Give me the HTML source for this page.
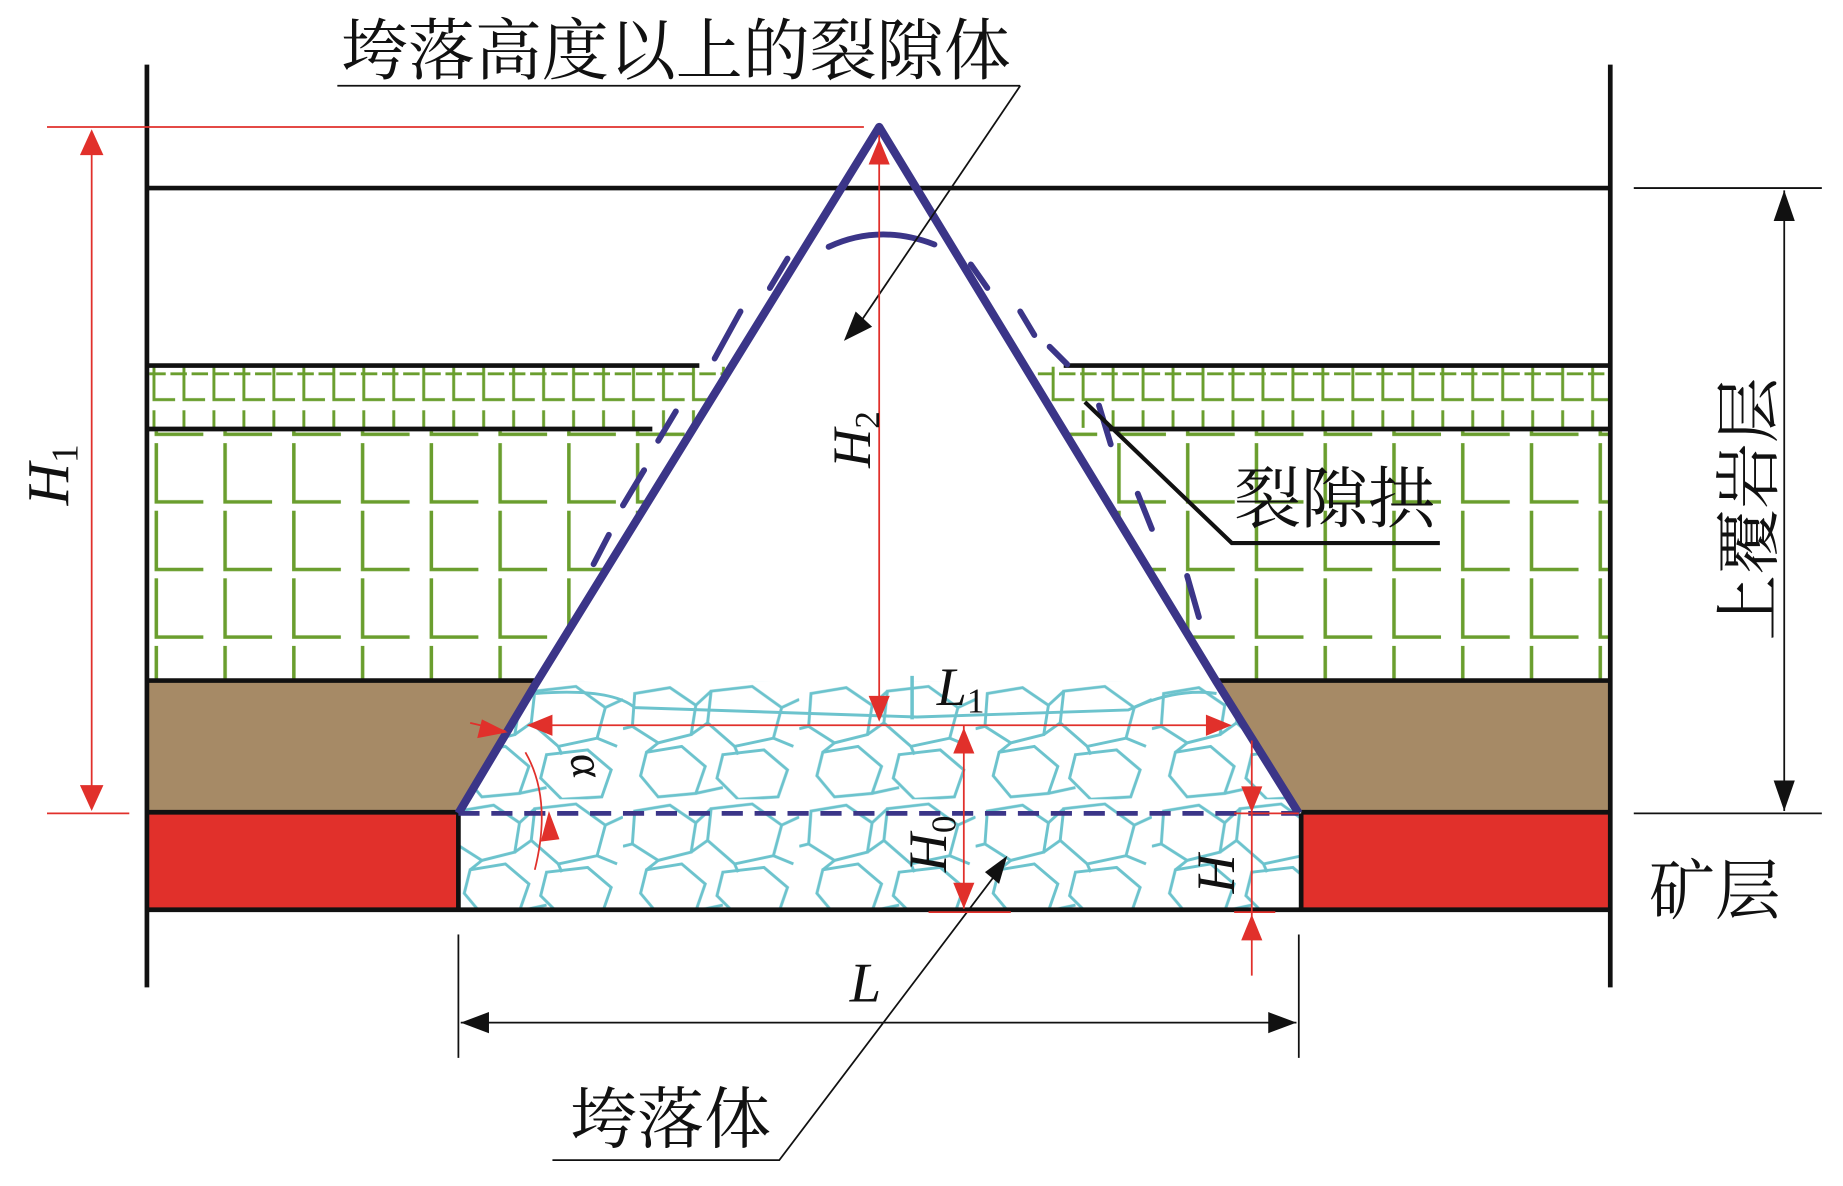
<!DOCTYPE html>
<html><head><meta charset="utf-8"><style>
html,body{margin:0;padding:0;background:#fff;}
svg{display:block;}
text{font-family:"Liberation Serif","Noto Serif CJK SC","Noto Sans CJK SC",serif;}
</style></head><body>
<svg width="1843" height="1186" viewBox="0 0 1568 1009" preserveAspectRatio="none" xmlns="http://www.w3.org/2000/svg">
<defs>
<pattern id="bigL" x="131" y="377" width="58.5" height="57.5" patternUnits="userSpaceOnUse">
<path d="M2 0 V50 H42" fill="none" stroke="#6a9e2e" stroke-width="3"/>
</pattern>
<pattern id="smL" x="129" y="320" width="25.5" height="40" patternUnits="userSpaceOnUse">
<path d="M2 0 V20 H20 M2 29 V40" fill="none" stroke="#6a9e2e" stroke-width="2.5"/>
</pattern>
<pattern id="rub" x="380" y="580" width="150" height="100" patternUnits="userSpaceOnUse">
<g fill="none" stroke="#6cc3cd" stroke-width="2.5">
<polygon points="10,10 40,5 62,20 58,45 30,52 8,38"/>
<polygon points="75,8 110,4 135,22 128,48 95,55 72,35"/>
<polygon points="20,60 50,55 70,72 62,95 30,98 15,80"/>
<polygon points="85,62 120,58 140,75 132,98 98,100 80,82"/>
<path d="M62,20 L75,8 M58,45 L72,35 M30,52 L20,60 M95,55 L98,62 M128,48 L145,55 M62,95 L85,90 M135,22 L150,15 M0,40 L8,38"/>
</g>
</pattern>
<clipPath id="trap"><polygon points="455,580 1035,580 1105,692 1107,773 390,773 390,692"/></clipPath>
</defs>
<rect width="1568" height="1009" fill="#fff"/>
<rect x="127" y="312" width="1243" height="52" fill="url(#smL)"/>
<line x1="127" y1="318" x2="1370" y2="318" stroke="#6a9e2e" stroke-width="2.5" stroke-dasharray="14 4"/>
<rect x="127" y="367" width="1243" height="211" fill="url(#bigL)"/>
<rect x="125" y="580" width="1245" height="111" fill="#a68a66"/>
<rect x="125" y="692" width="265" height="81" fill="#e1302b"/>
<rect x="1107" y="692" width="263" height="81" fill="#e1302b"/>
<polygon points="748,108 455,580 390,692 390,773 1107,773 1105,692 1035,580" fill="#fff"/>
<rect x="390" y="580" width="717" height="193" fill="url(#rub)" clip-path="url(#trap)"/>
<path d="M455,590 Q520,585 540,602 L780,610 L960,604 Q1000,585 1035,590" fill="none" stroke="#6cc3cd" stroke-width="2.5"/>
<line x1="776" y1="575" x2="776" y2="612" stroke="#6cc3cd" stroke-width="3"/>
<g stroke="#111" stroke-width="4" fill="none">
<line x1="125" y1="55" x2="125" y2="840"/>
<line x1="1370" y1="55" x2="1370" y2="840"/>
<line x1="125" y1="160" x2="1370" y2="160"/>
<line x1="125" y1="311" x2="595" y2="311"/>
<line x1="905" y1="311" x2="1370" y2="311"/>
<line x1="125" y1="365" x2="555" y2="365"/>
<line x1="940" y1="365" x2="1370" y2="365"/>
<line x1="125" y1="579" x2="455" y2="579"/>
<line x1="1035" y1="579" x2="1370" y2="579"/>
<line x1="125" y1="691" x2="390" y2="691"/>
<line x1="1107" y1="691" x2="1370" y2="691"/>
<line x1="125" y1="774" x2="1370" y2="774"/>
<line x1="390" y1="692" x2="390" y2="774"/>
<line x1="1107" y1="692" x2="1107" y2="774"/>
</g>
<polyline points="390,692 455,583 748,108 1035,580 1105,692" fill="none" stroke="#3b3588" stroke-width="7" stroke-linejoin="round"/>
<line x1="390" y1="692" x2="1105" y2="692" stroke="#3b3588" stroke-width="4" stroke-dasharray="18 10"/>
<g fill="none" stroke="#3b3588" stroke-width="5" stroke-linecap="round">
<path d="M705,210 Q748,190 795,208"/>
<line x1="670" y1="220" x2="655" y2="245"/>
<line x1="630" y1="265" x2="608" y2="305"/>
<line x1="575" y1="350" x2="560" y2="375"/>
<line x1="548" y1="400" x2="530" y2="430"/>
<line x1="518" y1="455" x2="505" y2="480"/>
<line x1="826" y1="225" x2="840" y2="245"/>
<line x1="868" y1="265" x2="880" y2="285"/>
<line x1="893" y1="295" x2="908" y2="310"/>
<line x1="935" y1="345" x2="945" y2="378"/>
<line x1="968" y1="420" x2="980" y2="450"/>
<line x1="1010" y1="490" x2="1020" y2="525"/>
</g>
<g stroke="#111" fill="none">
<line x1="287" y1="73" x2="868" y2="73" stroke-width="1.5"/>
<line x1="868" y1="73" x2="728" y2="280" stroke-width="1.5"/>
<polyline points="923,342 1048,462 1225,462" stroke-width="3.5"/>
<polyline points="470,987 663,987 850,740" stroke-width="1.5"/>
</g>
<polygon points="718,290 728,265 742,278" fill="#111"/>
<polygon points="857,728 838,742 850,752" fill="#111"/>
<g stroke="#e1302b" stroke-width="1.5" fill="#e1302b">
<line x1="40" y1="108" x2="735" y2="108"/>
<line x1="40" y1="692" x2="110" y2="692"/>
<line x1="78" y1="112" x2="78" y2="688"/>
<polygon points="78,110 68,132 88,132" stroke="none"/>
<polygon points="78,690 68,668 88,668" stroke="none"/>
<line x1="748" y1="115" x2="748" y2="612"/>
<polygon points="748,118 739,140 757,140" stroke="none"/>
<polygon points="748,614 739,592 757,592" stroke="none"/>
<line x1="452" y1="617" x2="1045" y2="617"/>
<polygon points="448,617 470,608 470,626" stroke="none"/>
<polygon points="1048,617 1026,608 1026,626" stroke="none"/>
<line x1="820" y1="617" x2="820" y2="773"/>
<polygon points="820,619 811,641 829,641" stroke="none"/>
<polygon points="820,773 811,751 829,751" stroke="none"/>
<line x1="790" y1="776" x2="860" y2="776"/>
<line x1="1065" y1="630" x2="1065" y2="830"/>
<line x1="1050" y1="692" x2="1105" y2="692"/>
<line x1="1050" y1="776" x2="1085" y2="776"/>
<polygon points="1065,691 1056,669 1074,669" stroke="none"/>
<polygon points="1065,778 1056,800 1074,800" stroke="none"/>
<line x1="400" y1="615" x2="430" y2="622"/>
<polygon points="432,623 410,612 406,628" stroke="none"/>
<path d="M447,640 Q470,680 455,740" fill="none"/>
<polygon points="467,690 460,716 476,714" stroke="none"/>
</g>
<g stroke="#111" stroke-width="1.5" fill="#111">
<line x1="390" y1="795" x2="390" y2="900"/>
<line x1="1105" y1="795" x2="1105" y2="900"/>
<line x1="392" y1="870" x2="1103" y2="870"/>
<polygon points="392,870 416,861 416,879" stroke="none"/>
<polygon points="1103,870 1079,861 1079,879" stroke="none"/>
<line x1="1390" y1="160" x2="1550" y2="160"/>
<line x1="1390" y1="692" x2="1550" y2="692"/>
<line x1="1518" y1="162" x2="1518" y2="690"/>
<polygon points="1518,162 1509,188 1527,188" stroke="none"/>
<polygon points="1518,690 1509,664 1527,664" stroke="none"/>
</g>
<text x="290" y="63" font-size="57" fill="#111">垮落高度以上的裂隙体</text>
<text x="1050" y="444" font-size="57" fill="#111">裂隙拱</text>
<text x="485" y="972" font-size="57" fill="#111">垮落体</text>
<text x="1403" y="777" font-size="56" fill="#111">矿层</text>
<text transform="translate(1507,545) rotate(-90)" font-size="56" fill="#111">上覆岩层</text>
<text transform="translate(58,430) rotate(-90)" font-size="50" font-style="italic" fill="#111">H<tspan font-size="32" font-style="normal" dy="8">1</tspan></text>
<text transform="translate(740,398) rotate(-90)" font-size="46" font-style="italic" fill="#111">H<tspan font-size="30" font-style="normal" dy="8">2</tspan></text>
<text x="797" y="600" font-size="46" font-style="italic" fill="#111">L<tspan font-size="30" font-style="normal" dy="6">1</tspan></text>
<text transform="translate(805,742) rotate(-90)" font-size="46" font-style="italic" fill="#111">H<tspan font-size="30" font-style="normal" dy="8">0</tspan></text>
<text transform="translate(1050,760) rotate(-90)" font-size="46" font-style="italic" fill="#111">H</text>
<text x="723" y="852" font-size="48" font-style="italic" fill="#111">L</text>
<text transform="translate(485,643) rotate(80)" font-size="40" font-style="italic" fill="#111">α</text>
</svg>
</body></html>
